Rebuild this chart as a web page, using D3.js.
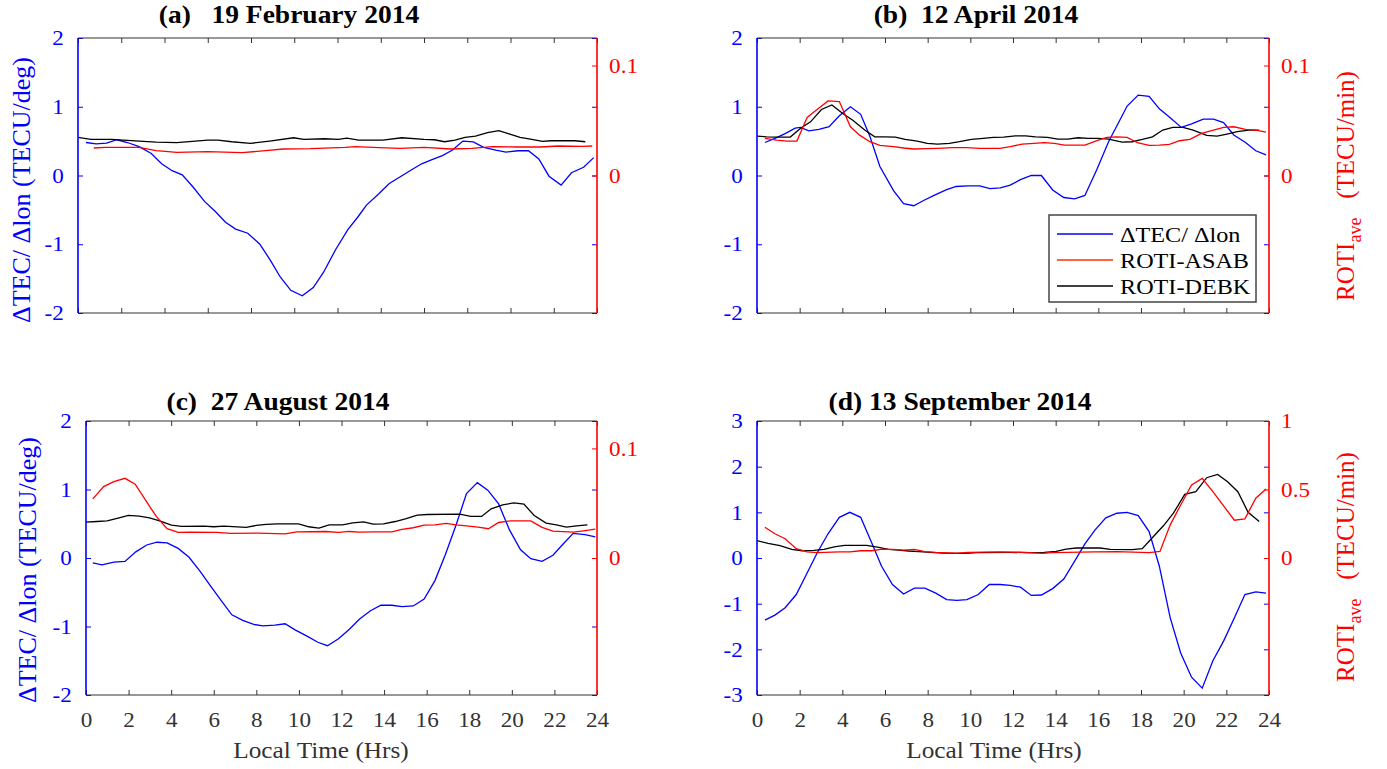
<!DOCTYPE html>
<html lang="en">
<head>
<meta charset="utf-8">
<title>dTEC/dlon and ROTI</title>
<script src="https://d3js.org/d3.v7.min.js"></script>
<style>
  body { margin: 0; background: #fff; }
  text { font-family: "Liberation Serif", "Times New Roman", serif; }
</style>
</head>
<body>
<script>
// hours on the x axis
const hourTicks = [0, 2, 4, 6, 8, 10, 12, 14, 16, 18, 20, 22, 24];

// (a) 19 February 2014 : [hour, value]
const febDtec = [[0.37,0.48],[0.84,0.46],[1.32,0.47],[1.80,0.52],[2.28,0.48],[2.83,0.42],[3.39,0.32],[3.87,0.17],[4.35,0.07],[4.82,0.01],[5.30,-0.16],[5.86,-0.38],[6.34,-0.52],[6.82,-0.68],[7.29,-0.78],[7.85,-0.84],[8.41,-1.00],[8.89,-1.23],[9.36,-1.48],[9.84,-1.67],[10.37,-1.75],[10.88,-1.63],[11.35,-1.41],[11.91,-1.08],[12.47,-0.79],[12.95,-0.60],[13.34,-0.43],[13.90,-0.27],[14.38,-0.12],[14.94,-0.01],[15.41,0.08],[15.89,0.17],[16.37,0.23],[16.85,0.29],[17.32,0.37],[17.80,0.50],[18.28,0.49],[18.76,0.41],[19.32,0.37],[19.79,0.34],[20.35,0.36],[20.83,0.36],[21.31,0.24],[21.78,-0.01],[22.34,-0.14],[22.82,0.04],[23.38,0.12],[23.85,0.26]];
const febAsab = [[0.73,0.0250],[1.24,0.0256],[2.83,0.0256],[3.62,0.0226],[4.57,0.0210],[6.00,0.0217],[7.59,0.0208],[8.54,0.0223],[9.49,0.0241],[10.76,0.0244],[12.35,0.0256],[12.83,0.0262],[13.94,0.0253],[14.89,0.0247],[16.00,0.0256],[17.27,0.0241],[18.22,0.0247],[19.17,0.0262],[20.29,0.0259],[21.40,0.0259],[22.19,0.0268],[23.30,0.0265],[23.78,0.0268]];
const febDebk = [[0.00,0.0346],[0.60,0.0328],[1.56,0.0328],[2.83,0.0313],[3.62,0.0304],[4.57,0.0298],[6.00,0.0322],[6.48,0.0322],[7.11,0.0307],[7.98,0.0292],[8.86,0.0313],[9.97,0.0343],[10.44,0.0328],[11.40,0.0334],[12.03,0.0328],[12.43,0.0340],[12.98,0.0322],[14.10,0.0322],[14.97,0.0343],[16.00,0.0328],[16.48,0.0325],[16.95,0.0307],[17.43,0.0322],[17.90,0.0346],[18.38,0.0358],[18.94,0.0389],[19.46,0.0407],[19.97,0.0377],[20.44,0.0346],[20.92,0.0331],[21.48,0.0310],[21.87,0.0316],[22.98,0.0316],[23.46,0.0307]];

// (b) 12 April 2014
const aprDtec = [[0.37,0.48],[0.84,0.54],[1.32,0.61],[1.79,0.69],[2.03,0.70],[2.43,0.65],[2.90,0.67],[3.38,0.71],[3.86,0.87],[4.38,1.00],[4.86,0.89],[5.29,0.57],[5.76,0.13],[6.40,-0.22],[6.87,-0.41],[7.35,-0.44],[7.83,-0.36],[8.30,-0.29],[8.86,-0.21],[9.33,-0.16],[9.89,-0.15],[10.44,-0.15],[10.92,-0.19],[11.40,-0.18],[11.87,-0.14],[12.35,-0.06],[12.86,0.00],[13.33,0.00],[13.86,-0.21],[14.38,-0.32],[14.89,-0.34],[15.37,-0.29],[15.92,0.08],[16.48,0.49],[16.95,0.77],[17.35,1.01],[17.87,1.17],[18.38,1.15],[18.86,0.97],[19.41,0.83],[19.89,0.70],[20.37,0.75],[20.92,0.82],[21.40,0.82],[21.87,0.77],[22.35,0.59],[22.90,0.48],[23.38,0.36],[23.86,0.30]];
const aprAsab = [[0.37,0.0338],[0.92,0.0322],[1.40,0.0313],[1.87,0.0313],[2.35,0.0527],[2.83,0.0602],[3.33,0.0678],[3.86,0.0672],[4.38,0.0443],[4.81,0.0367],[5.29,0.0307],[5.76,0.0274],[6.40,0.0262],[6.87,0.0250],[7.35,0.0241],[7.90,0.0244],[8.46,0.0247],[9.17,0.0253],[9.81,0.0253],[10.44,0.0247],[11.40,0.0247],[11.87,0.0262],[12.43,0.0286],[12.98,0.0292],[13.46,0.0298],[13.94,0.0292],[14.41,0.0277],[15.37,0.0277],[16.00,0.0322],[16.40,0.0346],[16.87,0.0352],[17.35,0.0346],[17.83,0.0298],[18.38,0.0274],[18.86,0.0277],[19.33,0.0283],[19.81,0.0316],[20.29,0.0328],[20.84,0.0383],[21.40,0.0413],[21.87,0.0437],[22.35,0.0443],[22.90,0.0419],[23.38,0.0413],[23.86,0.0395]];
const aprDebk = [[0.00,0.0358],[0.44,0.0352],[0.92,0.0349],[1.56,0.0349],[2.03,0.0428],[2.51,0.0488],[3.02,0.0600],[3.51,0.0642],[4.02,0.0563],[4.49,0.0503],[5.05,0.0413],[5.52,0.0352],[6.00,0.0352],[6.48,0.0349],[6.95,0.0328],[7.51,0.0313],[7.98,0.0292],[8.46,0.0286],[9.02,0.0292],[9.49,0.0307],[10.05,0.0328],[10.60,0.0337],[11.08,0.0346],[11.56,0.0349],[12.11,0.0361],[12.59,0.0361],[13.06,0.0352],[13.62,0.0346],[14.10,0.0331],[14.57,0.0331],[15.05,0.0343],[15.52,0.0337],[16.00,0.0337],[16.48,0.0331],[17.11,0.0304],[17.59,0.0307],[18.06,0.0328],[18.54,0.0352],[19.02,0.0413],[19.49,0.0437],[19.97,0.0437],[20.44,0.0413],[21.08,0.0365],[21.56,0.0358],[22.03,0.0377],[22.51,0.0398],[23.06,0.0413],[23.54,0.0413]];

// (c) 27 August 2014
const augDtec = [[0.32,-0.07],[0.75,-0.10],[1.31,-0.06],[1.83,-0.05],[2.34,0.09],[2.85,0.19],[3.33,0.23],[3.81,0.22],[4.33,0.14],[4.84,0.01],[5.37,-0.20],[5.88,-0.42],[6.37,-0.63],[6.85,-0.83],[7.36,-0.91],[7.88,-0.97],[8.31,-0.99],[8.87,-0.98],[9.35,-0.96],[9.82,-1.05],[10.38,-1.14],[10.89,-1.23],[11.34,-1.28],[11.86,-1.18],[12.37,-1.04],[12.85,-0.89],[13.36,-0.77],[13.85,-0.69],[14.36,-0.69],[14.84,-0.71],[15.37,-0.70],[15.88,-0.60],[16.39,-0.33],[16.88,0.05],[17.39,0.49],[17.87,0.94],[18.38,1.10],[18.87,0.99],[19.38,0.79],[19.89,0.41],[20.41,0.12],[20.89,-0.01],[21.42,-0.05],[21.93,0.04],[22.40,0.20],[22.88,0.36],[23.44,0.34],[23.92,0.31]];
const augAsab = [[0.32,0.0540],[0.83,0.0652],[1.31,0.0697],[1.83,0.0727],[2.31,0.0673],[2.82,0.0521],[3.30,0.0379],[3.81,0.0267],[4.33,0.0233],[4.89,0.0236],[6.16,0.0233],[6.80,0.0224],[8.07,0.0227],[9.35,0.0221],[9.90,0.0239],[11.26,0.0242],[11.86,0.0233],[12.37,0.0242],[12.85,0.0236],[13.49,0.0239],[14.36,0.0239],[14.84,0.0261],[15.37,0.0276],[15.88,0.0300],[16.39,0.0303],[16.91,0.0315],[17.39,0.0303],[17.87,0.0294],[18.42,0.0282],[18.90,0.0267],[19.38,0.0324],[19.94,0.0339],[20.89,0.0339],[21.42,0.0279],[21.93,0.0245],[22.88,0.0236],[23.36,0.0248],[23.92,0.0264]];
const augDebk = [[0.00,0.0327],[0.51,0.0333],[0.99,0.0339],[1.51,0.0364],[1.99,0.0388],[2.50,0.0382],[2.98,0.0367],[3.46,0.0339],[4.01,0.0300],[4.49,0.0288],[5.53,0.0291],[6.00,0.0285],[6.48,0.0291],[7.52,0.0279],[7.99,0.0297],[8.47,0.0306],[9.00,0.0312],[9.98,0.0312],[10.46,0.0285],[10.94,0.0273],[11.42,0.0303],[12.05,0.0303],[12.53,0.0321],[13.04,0.0330],[13.49,0.0309],[13.97,0.0312],[14.52,0.0333],[15.00,0.0358],[15.56,0.0391],[16.03,0.0397],[17.55,0.0400],[18.07,0.0379],[18.58,0.0379],[19.03,0.0449],[19.57,0.0485],[20.10,0.0503],[20.57,0.0491],[21.05,0.0388],[21.61,0.0318],[22.09,0.0303],[22.56,0.0282],[23.04,0.0294],[23.55,0.0303]];

// (d) 13 September 2014
const sepDtec = [[0.37,-1.36],[0.84,-1.25],[1.32,-1.09],[1.84,-0.80],[2.35,-0.33],[2.83,0.12],[3.33,0.53],[3.86,0.89],[4.35,1.00],[4.86,0.89],[5.37,0.34],[5.84,-0.18],[6.35,-0.58],[6.87,-0.79],[7.38,-0.66],[7.87,-0.66],[8.38,-0.77],[8.89,-0.91],[9.37,-0.93],[9.84,-0.91],[10.37,-0.80],[10.89,-0.58],[11.40,-0.58],[11.87,-0.60],[12.35,-0.64],[12.86,-0.82],[13.33,-0.81],[13.86,-0.67],[14.38,-0.46],[14.89,-0.07],[15.37,0.31],[15.84,0.61],[16.35,0.88],[16.87,0.98],[17.35,1.00],[17.87,0.93],[18.38,0.58],[18.86,-0.18],[19.37,-1.31],[19.86,-2.08],[20.37,-2.61],[20.87,-2.85],[21.37,-2.25],[21.87,-1.82],[22.38,-1.31],[22.87,-0.80],[23.38,-0.74],[23.86,-0.77]];
const sepAsab = [[0.37,0.225],[0.84,0.177],[1.32,0.141],[1.84,0.068],[2.35,0.044],[2.83,0.039],[3.86,0.044],[4.35,0.044],[4.86,0.053],[5.37,0.053],[5.87,0.065],[6.35,0.063],[6.87,0.058],[7.38,0.063],[7.87,0.046],[8.38,0.041],[9.37,0.036],[9.89,0.041],[11.40,0.044],[12.43,0.041],[13.38,0.034],[13.86,0.039],[15.84,0.044],[16.87,0.046],[18.38,0.039],[18.89,0.048],[19.37,0.242],[19.86,0.387],[20.37,0.533],[20.87,0.581],[21.37,0.484],[21.87,0.380],[22.38,0.276],[22.87,0.286],[23.38,0.436],[23.86,0.504]];
const sepDebk = [[0.00,0.126],[0.52,0.107],[1.08,0.090],[1.63,0.063],[2.11,0.053],[2.67,0.056],[3.14,0.063],[3.62,0.082],[4.10,0.092],[5.13,0.092],[5.65,0.080],[6.16,0.063],[6.63,0.058],[7.11,0.051],[7.59,0.046],[8.14,0.041],[8.70,0.036],[9.81,0.034],[10.29,0.039],[11.87,0.041],[12.90,0.039],[13.46,0.041],[14.02,0.048],[14.49,0.065],[14.97,0.073],[16.08,0.073],[16.56,0.063],[17.59,0.061],[18.06,0.068],[18.54,0.150],[19.05,0.235],[19.52,0.327],[20.05,0.465],[20.57,0.484],[21.08,0.586],[21.59,0.610],[22.06,0.557],[22.54,0.484],[23.02,0.334],[23.54,0.266]];

const legendLabels = ["\u0394TEC/ \u0394lon", "ROTI-ASAB", "ROTI-DEBK"];
const lineColors = ["#0000ff", "#ff0000", "#000000"];
const legendColors = ["#0000ff", "#ff3300", "#000000"];

const SX = 1.1; // the figure is a bit wider than tall
const W = 1387, H = 769;
const NB = "\u00a0";

const svg = d3.select("body").append("svg")
    .attr("width", W)
    .attr("height", H);

// text helper, glyphs widened a little like the source
function label(x, y, str, opts) {
    const t = svg.append("text")
        .attr("transform", `translate(${x},${y}) scale(${SX},1)`)
        .attr("text-anchor", opts.anchor || "middle")
        .attr("font-size", opts.size)
        .attr("font-weight", opts.weight || "normal")
        .attr("fill", opts.color || "#000")
        .text(str);
    return t;
}

const panels = [
    {title: "(a)" + NB + NB + NB + "19 February 2014", tx: 289, ty: 23, left: 78, right: 597, top: 38, bottom: 313,
     dtec: febDtec, asab: febAsab, debk: febDebk,
     leftDomain: [-2, 2], leftTicks: [-2, -1, 0, 1, 2], rightDomain: [-0.125, 0.125], rightTicks: [0, 0.1],
     ylab: {x: 30, y: 190}, rlab: null, xlab: null, legend: false},
    {title: "(b)" + NB + NB + "12 April 2014", tx: 976, ty: 23, left: 757, right: 1269, top: 38, bottom: 313,
     dtec: aprDtec, asab: aprAsab, debk: aprDebk,
     leftDomain: [-2, 2], leftTicks: [-2, -1, 0, 1, 2], rightDomain: [-0.125, 0.125], rightTicks: [0, 0.1],
     ylab: null, rlab: {x: 1354, y: 186}, xlab: null, legend: true},
    {title: "(c)" + NB + NB + "27 August 2014", tx: 278, ty: 410, left: 86, right: 597, top: 421, bottom: 695,
     dtec: augDtec, asab: augAsab, debk: augDebk,
     leftDomain: [-2, 2], leftTicks: [-2, -1, 0, 1, 2], rightDomain: [-0.125, 0.125], rightTicks: [0, 0.1],
     ylab: {x: 36, y: 570}, rlab: null, xlab: {x: 321, y: 758}, legend: false},
    {title: "(d) 13 September 2014", tx: 960, ty: 410, left: 757, right: 1269, top: 421, bottom: 695,
     dtec: sepDtec, asab: sepAsab, debk: sepDebk,
     leftDomain: [-3, 3], leftTicks: [-3, -2, -1, 0, 1, 2, 3], rightDomain: [-1, 1], rightTicks: [0, 0.5, 1],
     ylab: null, rlab: {x: 1354, y: 567}, xlab: {x: 994, y: 758}, legend: false}
];

panels.forEach(p => {
    const x = d3.scaleLinear().domain([0, 24]).range([p.left, p.right]);
    const yL = d3.scaleLinear().domain(p.leftDomain).range([p.bottom, p.top]);
    const yR = d3.scaleLinear().domain(p.rightDomain).range([p.bottom, p.top]);
    const g = svg.append("g");

    // series
    const lineL = d3.line().x(d => x(d[0])).y(d => yL(d[1]));
    const lineR = d3.line().x(d => x(d[0])).y(d => yR(d[1]));
    g.append("path").datum(p.dtec).attr("d", lineL)
        .attr("fill", "none").attr("stroke", lineColors[0]).attr("stroke-width", 1.3);
    g.append("path").datum(p.debk).attr("d", lineR)
        .attr("fill", "none").attr("stroke", lineColors[2]).attr("stroke-width", 1.3);
    g.append("path").datum(p.asab).attr("d", lineR)
        .attr("fill", "none").attr("stroke", lineColors[1]).attr("stroke-width", 1.3);

    // top & bottom ticks
    const top = g.append("g").attr("transform", `translate(0,${p.top})`)
        .call(d3.axisTop(x).tickValues(hourTicks).tickSize(-5).tickFormat(""));
    const showX = p.xlab !== null;
    const bot = g.append("g").attr("transform", `translate(0,${p.bottom})`)
        .call(d3.axisBottom(x).tickValues(hourTicks).tickSize(-5).tickPadding(17)
            .tickFormat(showX ? d => String(d) : ""));
    [top, bot].forEach(a => {
        a.select(".domain").remove();
        a.selectAll("line").attr("stroke", "#333");
        a.selectAll("text").attr("font-size", 21).attr("fill", "#333")
            .attr("font-family", "Liberation Serif, serif")
            .attr("transform", `scale(${SX},1)`);
    });

    // left axis (blue)
    const la = g.append("g").attr("transform", `translate(${p.left},0)`)
        .call(d3.axisLeft(yL).tickValues(p.leftTicks).tickSize(-5).tickPadding(13)
            .tickFormat(d => String(d)));
    la.select(".domain").remove();
    la.selectAll("line").attr("stroke", "#0000ff");
    la.selectAll("text").attr("font-size", 21).attr("fill", "#0000ff")
        .attr("font-family", "Liberation Serif, serif")
        .attr("transform", `scale(${SX},1)`);

    // blue ticks repeated on the right edge
    const lb = g.append("g").attr("transform", `translate(${p.right},0)`)
        .call(d3.axisRight(yL).tickValues(p.leftTicks).tickSize(-5).tickFormat(""));
    lb.select(".domain").remove();
    lb.selectAll("line").attr("stroke", "#0000ff");

    // right axis (red)
    const ra = g.append("g").attr("transform", `translate(${p.right},0)`)
        .call(d3.axisRight(yR).tickValues(p.rightTicks).tickSize(-5).tickPadding(11)
            .tickFormat(d => String(d)));
    ra.select(".domain").remove();
    ra.selectAll("line").attr("stroke", "#ff0000");
    ra.selectAll("text").attr("font-size", 21).attr("fill", "#ff0000")
        .attr("font-family", "Liberation Serif, serif")
        .attr("transform", `scale(${SX},1)`);

    // frame
    g.append("line").attr("x1", p.left).attr("x2", p.right).attr("y1", p.top).attr("y2", p.top)
        .attr("stroke", "#333").attr("stroke-width", 1.2);
    g.append("line").attr("x1", p.left).attr("x2", p.right).attr("y1", p.bottom).attr("y2", p.bottom)
        .attr("stroke", "#333").attr("stroke-width", 1.2);
    g.append("line").attr("x1", p.left).attr("x2", p.left).attr("y1", p.top).attr("y2", p.bottom)
        .attr("stroke", "#0000ff").attr("stroke-width", 1.6);
    g.append("line").attr("x1", p.right).attr("x2", p.right).attr("y1", p.top).attr("y2", p.bottom)
        .attr("stroke", "#ff0000").attr("stroke-width", 1.6);

    // title
    label(p.tx, p.ty, p.title, {size: 25, weight: "bold"});

    // axis titles
    if (p.ylab) {
        svg.append("text")
            .attr("transform", `translate(${p.ylab.x},${p.ylab.y}) rotate(-90)`)
            .attr("text-anchor", "middle")
            .attr("font-size", 26)
            .attr("fill", "#0000ff")
            .text("\u0394TEC/ \u0394lon (TECU/deg)");
    }
    if (p.rlab) {
        const t = svg.append("text")
            .attr("transform", `translate(${p.rlab.x},${p.rlab.y}) rotate(-90)`)
            .attr("text-anchor", "middle")
            .attr("font-size", 25)
            .attr("fill", "#ff0000");
        t.append("tspan").text("ROTI");
        t.append("tspan").attr("dy", 7).attr("font-size", 18).text("ave");
        t.append("tspan").attr("dy", -7).text(NB + NB + NB + "(TECU/min)");
    }
    if (p.xlab) {
        label(p.xlab.x, p.xlab.y, "Local Time (Hrs)", {size: 23, color: "#333"});
    }

    // legend
    if (p.legend) {
        const lg = svg.append("g");
        lg.append("rect").attr("x", 1049).attr("y", 215).attr("width", 207).attr("height", 87)
            .attr("fill", "#fff").attr("stroke", "#444").attr("stroke-width", 1.5);
        legendLabels.forEach((name, i) => {
            const yy = 234 + i * 26;
            lg.append("line").attr("x1", 1057).attr("x2", 1113).attr("y1", yy).attr("y2", yy)
                .attr("stroke", legendColors[i]).attr("stroke-width", 1.3);
            label(1120, yy + 8, name, {size: 22, anchor: "start"});
        });
    }
});
</script>
</body>
</html>
